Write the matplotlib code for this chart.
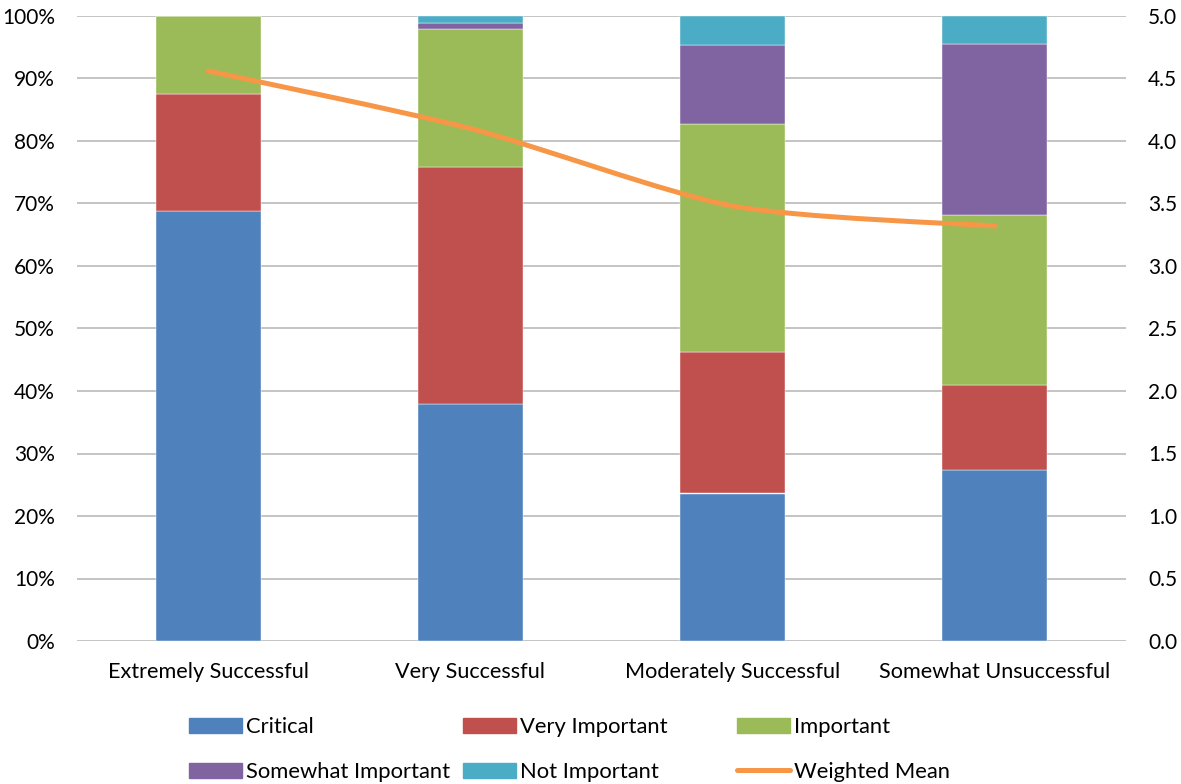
import matplotlib.pyplot as plt
import numpy as np
from matplotlib.path import Path
from matplotlib.patches import PathPatch, Patch
from matplotlib.lines import Line2D
from matplotlib.ticker import FuncFormatter

plt.rcParams['font.family'] = ['Lato', 'DejaVu Sans']

# 응답 분포 (%)
groups = ['Extremely Successful', 'Very Successful', 'Moderately Successful', 'Somewhat Unsuccessful']
critical = [68.75, 37.9, 23.6, 27.3]
very_important = [18.75, 37.9, 22.7, 13.6]
important = [12.5, 22.1, 36.4, 27.3]
somewhat_important = [0.0, 1.05, 12.7, 27.3]
not_important = [0.0, 1.05, 4.6, 4.5]
weighted_mean = [4.56, 4.10, 3.48, 3.32]

series = [
    ('Critical', critical, '#4F81BD'),
    ('Very Important', very_important, '#C0504D'),
    ('Important', important, '#9BBB59'),
    ('Somewhat Important', somewhat_important, '#8064A2'),
    ('Not Important', not_important, '#4BACC6'),
]
line_color = '#F79646'

fig = plt.figure(figsize=(11.81, 7.84), dpi=100)
ax = fig.add_axes([77/1181, 1-641/784, (1126-77)/1181, 625/784])

x = np.arange(len(groups))
bottom = np.zeros(len(groups))
for name, vals, col in series:
    ax.bar(x, vals, bottom=bottom, width=0.4, color=col, label=name, zorder=2,
           edgecolor='white', linewidth=0.3)
    bottom += np.array(vals)

ax.set_xlim(-0.5, len(groups) - 0.5)
ax.set_ylim(0, 100)
ax.set_yticks(np.arange(0, 101, 10))
ax.yaxis.set_major_formatter(FuncFormatter(lambda v, p: '%d%%' % v))
ax.set_xticks(x)
ax.set_xticklabels(groups)
ax.grid(axis='y', color='#BFBFBF', linewidth=1.3, zorder=0)
ax.set_axisbelow(True)
for s in ax.spines.values():
    s.set_visible(False)
ax.tick_params(axis='y', length=0, pad=16, labelsize=15)
ax.tick_params(axis='x', length=0, pad=15, labelsize=15.6)

# 가중평균 (오른쪽 축, 부드러운 곡선)
ax2 = ax.twinx()
ax2.set_ylim(0, 5)
ax2.set_yticks(np.arange(0, 5.01, 0.5))
ax2.yaxis.set_major_formatter(FuncFormatter(lambda v, p: '%.1f' % v))
for s in ax2.spines.values():
    s.set_visible(False)
ax2.tick_params(axis='y', length=0, pad=16, labelsize=15)

pts = np.column_stack([x, weighted_mean]).astype(float)
verts = [pts[0]]
codes = [Path.MOVETO]
n = len(pts)
for i in range(n - 1):
    p0 = pts[max(i - 1, 0)]
    p1 = pts[i]
    p2 = pts[i + 1]
    p3 = pts[min(i + 2, n - 1)]
    c1 = p1 + (p2 - p0) / 8.0
    c2 = p2 - (p3 - p1) / 8.0
    verts += [c1, c2, p2]
    codes += [Path.CURVE4] * 3
ax2.add_patch(PathPatch(Path(verts, codes), facecolor='none', edgecolor=line_color,
                        linewidth=3.6, capstyle='round', joinstyle='round', zorder=3))

# 범례
handles = [Patch(color=c) for _, _, c in series] + \
          [Line2D([], [], color=line_color, linewidth=3.6, solid_capstyle='round')]
labels = [s[0] for s in series] + ['Weighted Mean']
xs = [189, 463, 737, 189, 463, 737]
ys = [727, 727, 727, 772, 772, 772]
for h, l, px, py in zip(handles, labels, xs, ys):
    fig.legend(handles=[h], labels=[l], loc='center left',
               bbox_to_anchor=(px/1181, 1-py/784), frameon=False,
               borderpad=0, borderaxespad=0, handlelength=2.4, handleheight=0.7,
               handletextpad=0.22, fontsize=15.8)

fig.savefig('out.png', dpi=100)
